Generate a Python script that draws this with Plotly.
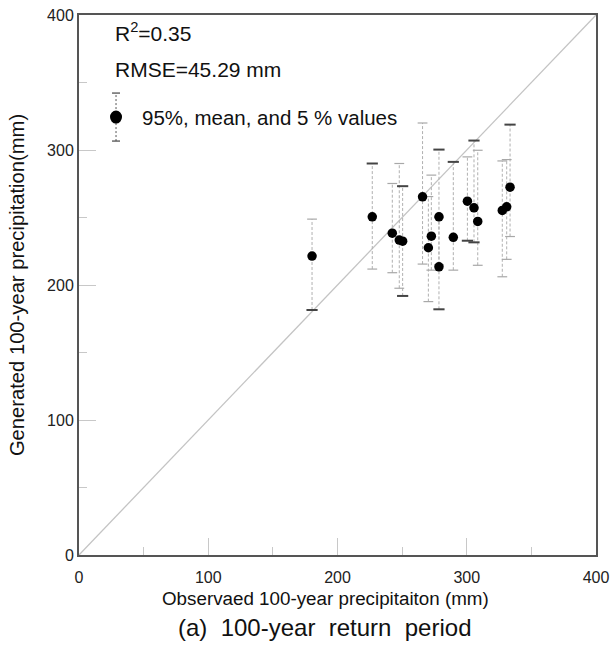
import plotly.graph_objects as go

# ---- data ----
observed = [180.3, 226.9, 242.4, 247.8, 250.4, 265.8, 270.3, 272.6, 278.5, 278.5,
            289.6, 300.5, 305.6, 308.5, 327.5, 330.9, 333.5]
gen_mean = [221.4, 250.5, 238.4, 233.3, 232.5, 265.3, 227.6, 236.2, 250.5, 213.5,
            235.3, 262.1, 257.2, 247.1, 255.2, 257.9, 272.5]
gen_p95 = [248.8, 290.0, 275.2, 290.0, 273.2, 320.0, 265.5, 281.4, 300.3, 250.0,
           291.2, 294.9, 307.0, 299.8, 291.9, 292.9, 318.8]
gen_p5 = [181.5, 211.8, 209.1, 197.6, 191.9, 215.5, 187.7, 211.0, 215.0, 182.0,
          211.0, 232.8, 231.6, 214.6, 206.1, 219.0, 235.9]
axis_range = [0, 400]
major_ticks = [0, 100, 200, 300, 400]
r2_text = "R<sup>2</sup>=0.35"
rmse_text = "RMSE=45.29 mm"
legend_text = "95%, mean, and 5 % values"
x_title = "Observaed 100-year precipitaiton (mm)"
y_title = "Generated 100-year precipitation(mm)"
caption = "(a)\u00a0\u00a0100-year\u00a0\u00a0return\u00a0\u00a0period"

# style: which caps print darker in the scan
dark_upper = {1, 4, 8, 10, 12, 16}
dark_lower = {0, 4, 9, 11, 12}

FONT = "Liberation Sans, Arial, sans-serif"
fig = go.Figure()

# 1:1 line
fig.add_trace(go.Scatter(x=axis_range, y=axis_range, mode="lines",
                         line=dict(color="#c4c4c4", width=1.3), hoverinfo="skip"))

# dashed whiskers
wx, wy = [], []
for xo, lo, hi in zip(observed, gen_p5, gen_p95):
    wx += [xo, xo, None]
    wy += [lo, hi, None]
fig.add_trace(go.Scatter(x=wx, y=wy, mode="lines",
                         line=dict(color="#b0b0b0", width=1, dash="3px,2px"),
                         hoverinfo="skip"))

# caps
lx, ly, dx, dy = [], [], [], []
for i, (xo, lo, hi) in enumerate(zip(observed, gen_p5, gen_p95)):
    (dx if i in dark_upper else lx).append(xo)
    (dy if i in dark_upper else ly).append(hi)
    (dx if i in dark_lower else lx).append(xo)
    (dy if i in dark_lower else ly).append(lo)
fig.add_trace(go.Scatter(x=lx, y=ly, mode="markers",
                         marker=dict(symbol="line-ew", size=7,
                                     line=dict(color="#a8a8a8", width=1.2)),
                         hoverinfo="skip"))
fig.add_trace(go.Scatter(x=dx, y=dy, mode="markers",
                         marker=dict(symbol="line-ew", size=8,
                                     line=dict(color="#444444", width=2)),
                         hoverinfo="skip"))

# mean points
fig.add_trace(go.Scatter(x=observed, y=gen_mean, mode="markers",
                         marker=dict(color="black", size=9.5, line=dict(width=0))))

axis_common = dict(range=axis_range, tickvals=major_ticks, ticks="inside",
                   ticklen=17, tickwidth=1, tickcolor="#c8c8c8",
                   minor=dict(dtick=50, ticks="inside", ticklen=8,
                              tickcolor="#c8c8c8", tickwidth=1),
                   showgrid=False, zeroline=False, showline=True, mirror=True,
                   linecolor="#555555", linewidth=2, automargin=False,
                   tickfont=dict(family=FONT, size=16, color="#222222"))

fig.update_layout(
    width=611, height=645,
    margin=dict(l=79, r=15, t=15, b=90),
    paper_bgcolor="white", plot_bgcolor="white",
    showlegend=False,
    xaxis=dict(**axis_common, ticklabelstandoff=7),
    yaxis=dict(**axis_common,
               title=dict(text=y_title, font=dict(family=FONT, size=20.2, color="#111111"),
                          standoff=17)),
)

# legend glyph (paper coords)
gx, gy = 0.0716, 0.811
fig.add_shape(type="line", xref="paper", yref="paper", xsizemode="pixel", ysizemode="pixel",
              xanchor=gx, yanchor=gy, x0=0, x1=0, y0=-24, y1=24,
              line=dict(color="#555555", width=1, dash="2px,2px"))
for yy in (-24, 24):
    fig.add_shape(type="line", xref="paper", yref="paper", xsizemode="pixel", ysizemode="pixel",
                  xanchor=gx, yanchor=gy, x0=-4, x1=4, y0=yy, y1=yy,
                  line=dict(color="#444444", width=1.2))
fig.add_shape(type="circle", xref="paper", yref="paper", xsizemode="pixel", ysizemode="pixel",
              xanchor=gx, yanchor=gy, x0=-6, x1=6, y0=-6.5, y1=6.5,
              fillcolor="black", line=dict(width=0))

fig.add_annotation(text=r2_text, xref="paper", yref="paper", x=0.0658, y=0.968,
                   xanchor="left", yanchor="middle", showarrow=False,
                   font=dict(family=FONT, size=21, color="#111111"))
fig.add_annotation(text=rmse_text, xref="paper", yref="paper", x=0.0658, y=0.899,
                   xanchor="left", yanchor="middle", showarrow=False,
                   font=dict(family=FONT, size=21, color="#111111"))
fig.add_annotation(text=legend_text, xref="paper", yref="paper", x=0.118, y=0.81,
                   xanchor="left", yanchor="middle", showarrow=False,
                   font=dict(family=FONT, size=20.5, color="#111111"))
# x-axis title (slightly left of centre in the original)
fig.add_annotation(text=x_title, xref="paper", yref="paper", x=0.476, y=-0.081,
                   xanchor="center", yanchor="middle", showarrow=False,
                   font=dict(family=FONT, size=18.8, color="#111111"))
fig.add_annotation(text=caption, xref="paper", yref="paper", x=0.474, y=-0.135,
                   xanchor="center", yanchor="middle", showarrow=False,
                   font=dict(family=FONT, size=24, color="#111111"))

fig.write_html("out.html")
